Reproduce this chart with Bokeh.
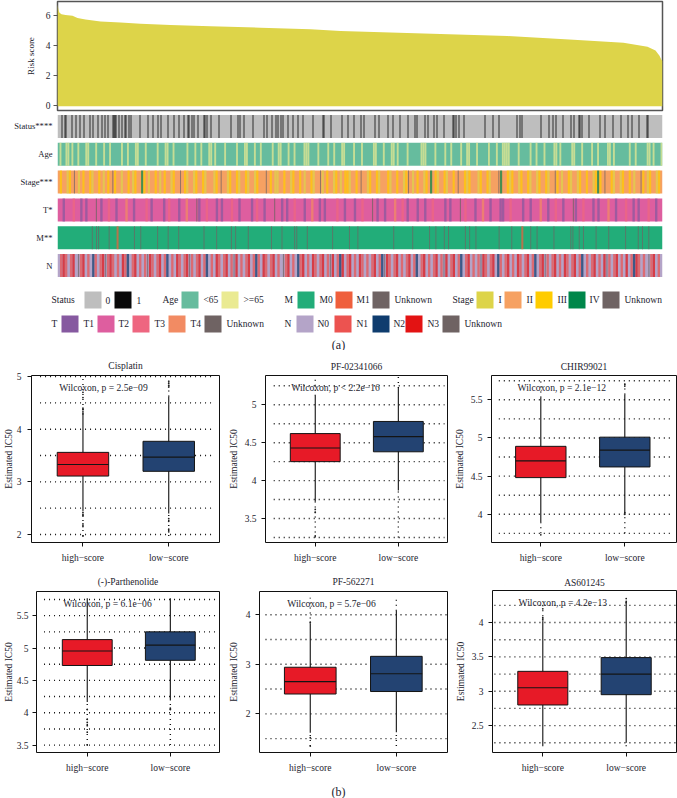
from bokeh.plotting import figure
from bokeh.layouts import column, row
from bokeh.models import FixedTicker, FactorRange, Range1d
from bokeh.core.properties import value
from bokeh.embed import file_html
from bokeh.resources import INLINE

# ------------------ DATA ------------------
risk_rank = [0, 1, 2, 4, 8, 15, 20, 28, 43, 63, 83, 113, 153, 203, 253, 283, 383, 450, 516, 566, 590, 598, 602, 604, 605]
risk_value = [6.75, 6.4, 6.2, 6.1, 6.05, 6.0, 5.85, 5.75, 5.62, 5.55, 5.46, 5.38, 5.3, 5.2, 5.1, 4.98, 4.78, 4.64, 4.4, 4.2, 3.93, 3.67, 3.33, 3.05, 3.0]

n_samples = 605
status_dead = [4, 7, 8, 14, 18, 22, 26, 32, 35, 40, 44, 47, 50, 55, 56, 57, 58, 61, 64, 67, 68, 71, 73,
               82, 90, 95, 100, 103, 110, 116, 121, 126, 130, 131, 134, 136, 140, 146, 147, 149, 153, 161, 173,
               180, 182, 186, 195, 206, 209, 214, 218, 220, 223, 225, 230, 235, 240, 245, 255, 265, 266, 273,
               284, 290, 296, 303, 306, 317, 321, 330, 335, 342, 350, 357, 359, 367, 370, 376, 379, 386, 395, 396, 398,
               401, 406, 427, 435, 441, 459, 462, 464, 483, 491, 495, 498, 505, 513, 516, 521, 522, 524, 531, 542,
               547, 555, 563, 570, 574, 581, 589, 590]
track_age = ("abaabbabaabaaabbaaabaaabaabaaaaabaabaaabbaaabaaaaabaaabbaabaaaaaabaaabaabaaabbabaaaabaaaaabaaabbaaabaabaaaaabaabb"
             "aaabaabaaaabbbaaaabaaaabaabaaabbaaaabaaabaaaaabbaaabaaabbabaaaabaaaaaabbbaaaabaaaabaabaaaabaabbaaabaaaaabaaabaab"
             "bbbaaaabaaaaabaabaaabaaaabbabaaaaabbaaabaaaabaabaaaabbabaaaaaaabaabaaaaabbabaaab")
track_stage = ("2322132u2123223122321232u32212232132243212232123221322u23122132231222132u2213223122312213222u2321122322132232"
               "1223122u12322132123312232u22132231222312232213u212322132423122312232u22313222132231222u4223132213223122132231"
               "22u321223122132232213432u223122132232122u321322132")
track_t = ("pp1ppp3pp1p1pppup1pp3pp1ppp4pp1pppp3p1pppp1p3ppp1pp4pppu1pp3ppp1p1ppp3pp1pppp1p3pp1pppupp1p1pp3ppp1pp4pp1p1pppp3"
           "pp1ppp1pp3pppup1pp1ppp4pp3p1ppp1pp1pp3pppp1p1pppup3ppp1pp4pp1ppp11pp3pppp1pp1ppp4pp1pp3pp1pppu1pp3ppp1p1ppp4pp1pp"
           "p3pp1p1ppp3pp1pp")
track_m = ("0000000000000000u0uu0000u00010000000u00u0000000u0000u0000u00000000000u00000u000000u0u00000u0000000000u0000u00"
           "000uu0000u00000000000u0000000u000u0000000000000000u00000000u0000000u00u000u0u0000000u0u00u0000000000u00000u0000"
           "1000u00u0000000u0000000uu00u0u00000u00000u0000000u00000u0u00u000000")
track_n = ("01310130u1301021013u1310103120130101u3101301201031013u10130120103101301u3010130121031013010u1301021301031013"
           "01u301230130103101013012u31013010130120130101301u30130120130101u3101302101301031013012013u1013010310130120101"
           "30103u1013010301231010u13010")

panel_names = ["Cisplatin", "PF-02341066", "CHIR99021", "(-)-Parthenolide", "PF-562271", "AS601245"]
panel_pvalues = ["Wilcoxon, p = 2.5e\u221209", "Wilcoxon, p < 2.2e\u221216", "Wilcoxon, p = 2.1e\u221212",
                 "Wilcoxon, p = 6.1e\u221206", "Wilcoxon, p = 5.7e\u221206", "Wilcoxon, p = 4.2e\u221213"]
group_labels = ["high\u2212score", "low\u2212score"]
y_top = [5.02, 5.386, 5.818, 5.873, 4.468, 4.467]
y_bottom = [1.848, 3.184, 3.63, 3.386, 1.22, 2.108]
y_ticks = [[2, 3, 4, 5], [3.5, 4.0, 4.5, 5.0], [4.0, 4.5, 5.0, 5.5], [3.5, 4.0, 4.5, 5.0, 5.5], [2, 3, 4], [2.5, 3.0, 3.5, 4.0]]
grid_levels = [[2, 2.5, 3, 3.5, 4, 4.5, 5], [3.25, 3.5, 3.75, 4, 4.25, 4.5, 4.75, 5, 5.25],
               [3.75, 4, 4.25, 4.5, 4.75, 5, 5.25, 5.5, 5.75], [3.5, 3.75, 4, 4.25, 4.5, 4.75, 5, 5.25, 5.5, 5.75],
               [1.5, 2, 2.5, 3, 3.5, 4], [2.25, 2.5, 2.75, 3, 3.25, 3.5, 3.75, 4, 4.25]]
high_q1 = [3.11, 4.25, 4.48, 4.73, 2.40, 2.80]
high_median = [3.33, 4.43, 4.70, 4.955, 2.65, 3.05]
high_q3 = [3.56, 4.62, 4.89, 5.13, 2.94, 3.29]
high_whisker_low = [2.45, 3.72, 3.90, 4.165, 1.62, 2.20]
high_whisker_high = [4.27, 5.12, 5.53, 5.77, 3.82, 4.02]
low_q1 = [3.20, 4.38, 4.62, 4.81, 2.45, 2.95]
low_median = [3.47, 4.58, 4.84, 5.045, 2.81, 3.25]
low_q3 = [3.77, 4.78, 5.01, 5.25, 3.16, 3.49]
low_whisker_low = [2.40, 3.87, 4.01, 4.19, 1.63, 2.25]
low_whisker_high = [4.62, 5.22, 5.57, 5.77, 4.08, 4.28]
high_outliers = [[4.3, 4.33, 4.37, 4.4, 4.6, 4.7, 2.42, 2.38, 2.35, 2.2, 2.15, 1.97],
                 [3.62, 3.58, 3.27], [3.73], [4.05, 3.9, 3.85, 3.8, 3.7, 3.5], [3.85, 1.52, 1.35], [4.07, 4.05, 4.2]]
low_outliers = [[4.8, 4.83, 4.87, 4.9, 2.3, 2.25, 2.1, 2.05], [], [5.70, 5.68, 4.02, 4.0], [4.07, 4.05], [], [4.35, 4.31, 4.29]]
vertical_low = [1.97, 3.25, 3.75, 3.5, 1.35, 2.2]
vertical_high = [5.0, 5.38, 5.75, 5.77, 4.34, 4.3]
grid_start = [0.5, 0.5, 0.5, 0.48, 0.48, 0.42]
grid_end = [2.5, 2.555, 2.57, 2.555, 2.6, 2.6]

# ------------------ STYLE / LAYOUT ------------------
SERIF = "Liberation Serif"
INK = "#23232e"
YELLOW = "#DDD449"
GRAY_UNK = "#6F6363"
age_colors = {"a": "#66BC9E", "b": "#EAEA92"}
stage_colors = {"1": YELLOW, "2": "#F6A162", "3": "#FFCC00", "4": "#00874A", "u": GRAY_UNK}
t_colors = {"1": "#8659A0", "p": "#DE5E9F", "3": "#EE6680", "4": "#F28B63", "u": GRAY_UNK}
m_colors = {"0": "#22AD79", "1": "#EF5F3C", "u": GRAY_UNK}
n_colors = {"0": "#B4A4C8", "1": "#EC5350", "2": "#0F3C6E", "3": "#E31313", "u": GRAY_UNK}

# (left, right, first box centre, second box centre) of each panel frame in page pixels
panel_frames = [(29, 219, 81, 167.7), (263, 447, 313.3, 397.3), (491, 676, 540.3, 624.3),
                (34, 219, 85.3, 169.3), (257, 447, 308.3, 395.3), (492, 676, 542.3, 625.7)]
panel_cells = [(0, 225), (225, 450), (450, 677), (0, 225), (225, 450), (450, 677)]
wilcoxon_x = [57, 289, 517, 61, 285, 518]
title_standoff = [9, 7, 7, 9, 9, 5]
tick_label_standoff = [6, 5, 5, 4, 5, 5]
axis_title_standoff = [0, 3, 3, 0, 4, 3]


def bare(fig):
    fig.grid.visible = False
    fig.background_fill_color = "white"
    fig.border_fill_color = "white"
    fig.frame_align = False
    return fig


# Risk score panel
risk = bare(figure(width=677, height=112, output_backend="svg", toolbar_location=None,
                   x_range=Range1d(0, n_samples), y_range=Range1d(-0.33, 6.95),
                   min_border_left=57, min_border_right=15, min_border_top=1, min_border_bottom=2))
risk.varea(x=risk_rank, y1=[-0.05] * len(risk_rank), y2=risk_value, fill_color=YELLOW)
risk.xaxis.visible = False
risk.yaxis.ticker = FixedTicker(ticks=[0, 2, 4, 6])
risk.yaxis.axis_label = "Risk score"
risk.yaxis.axis_label_text_font = SERIF
risk.yaxis.axis_label_text_font_size = "9px"
risk.yaxis.axis_label_text_font_style = "normal"
risk.yaxis.axis_label_text_color = INK
risk.yaxis.axis_label_standoff = 7
risk.yaxis.major_label_text_font = SERIF
risk.yaxis.major_label_text_font_size = "9.5px"
risk.yaxis.major_label_text_color = INK
risk.yaxis.major_label_standoff = 3
risk.yaxis.major_tick_out = 4
risk.yaxis.major_tick_in = 0
risk.yaxis.minor_tick_line_color = None
risk.yaxis.axis_line_color = None
risk.yaxis.major_tick_line_color = "#555555"
risk.outline_line_color = "#555555"
risk.outline_line_width = 1.5

# Annotation tracks
track_names = ["Status****", "Age", "Stage***", "T*", "M**", "N"]
heat = bare(figure(width=677, height=168, output_backend="svg", toolbar_location=None,
                   x_range=Range1d(0, n_samples), y_range=FactorRange(factors=track_names[::-1]),
                   min_border_left=57, min_border_right=15, min_border_top=0, min_border_bottom=1))
heat.xaxis.visible = False
heat.outline_line_color = None
heat.yaxis.axis_line_color = None
heat.yaxis.major_tick_line_color = None
heat.yaxis.major_tick_out = 0
heat.yaxis.major_tick_in = 0
heat.yaxis.major_label_text_font = SERIF
heat.yaxis.major_label_text_font_size = "8.6px"
heat.yaxis.major_label_text_color = INK
heat.yaxis.major_label_standoff = 5
BAND = 0.825


def draw_track(name, codes, colors, base):
    heat.rect(x=[n_samples / 2], y=[name], width=n_samples, height=BAND, fill_color=base, line_color=None)
    step = n_samples / len(codes)
    xs, cs, ws = [], [], []
    for i, c in enumerate(codes):
        if colors[c] != base:
            xs.append((i + 0.5) * step)
            cs.append(colors[c])
            ws.append(step * (0.45 if colors[c] == GRAY_UNK else 0.95))
    heat.rect(x=xs, y=[name] * len(xs), width=ws, height=BAND, fill_color=cs, fill_alpha=0.72, line_color=None)


heat.rect(x=[n_samples / 2], y=[track_names[0]], width=n_samples, height=BAND, fill_color="#BEBEBE", line_color=None)
heat.rect(x=[i + 0.5 for i in status_dead], y=[track_names[0]] * len(status_dead), width=1.1, height=BAND,
          fill_color="#0A0A0A", fill_alpha=0.72, line_color=None)
draw_track(track_names[1], track_age, age_colors, "#66BC9E")
draw_track(track_names[2], track_stage, stage_colors, "#F6A162")
draw_track(track_names[3], track_t, t_colors, "#DE5E9F")
draw_track(track_names[4], track_m, m_colors, "#22AD79")
draw_track(track_names[5], track_n, n_colors, "#B4A4C8")

# Legend strip (page pixel coordinates)
legend = bare(figure(width=677, height=70, output_backend="svg", toolbar_location=None,
                     x_range=Range1d(0, 677), y_range=Range1d(350, 280),
                     min_border_left=0, min_border_right=0, min_border_top=0, min_border_bottom=0))
legend.axis.visible = False
legend.outline_line_color = None
row1_text = [("Status", 51), ("0", 105), ("1", 136), ("Age", 162), ("<65", 203), (">=65", 243), ("M", 284), ("M0", 319),
             ("M1", 356), ("Unknown", 394), ("Stage", 452), ("I", 498), ("II", 526), ("III", 557), ("IV", 589), ("Unknown", 624)]
row1_swatches = [(84, "#BEBEBE"), (114, "#0A0A0A"), (181, "#66BC9E"), (221, "#EAEA92"), (297, "#22AD79"), (335, "#EF5F3C"),
                 (372, GRAY_UNK), (476, YELLOW), (504, "#F6A162"), (535, "#FFCC00"), (568, "#00874A"), (602, GRAY_UNK)]
row2_text = [("T", 51), ("T1", 83), ("T2", 118), ("T3", 154), ("T4", 190), ("Unknown", 226), ("N", 284), ("N0", 317),
             ("N1", 356), ("N2", 393), ("N3", 427), ("Unknown", 464)]
row2_swatches = [(61, "#8659A0"), (97, "#DE5E9F"), (132, "#EE6680"), (168, "#F28B63"), (204, GRAY_UNK), (296, "#B4A4C8"),
                 (334, "#EC5350"), (372, "#0F3C6E"), (405, "#E31313"), (442, GRAY_UNK)]
for entries, swatches, top, mid in [(row1_text, row1_swatches, 291, 299.5), (row2_text, row2_swatches, 315, 323)]:
    legend.quad(left=[s[0] for s in swatches], right=[s[0] + 17 for s in swatches], top=[top] * len(swatches),
                bottom=[top + 17] * len(swatches), fill_color=[s[1] for s in swatches], line_color=None)
    legend.text(x=[e[1] for e in entries], y=[mid] * len(entries), text=[e[0] for e in entries],
                text_font=value(SERIF), text_font_size="9.5px", text_color=INK, text_baseline="middle", text_align="left")
legend.text(x=[338], y=[344], text=["(a)"], text_font=value(SERIF), text_font_size="12px", text_color=INK,
            text_baseline="middle", text_align="center")


def box_panel(i, fig_top, fig_height, frame_top, frame_bottom):
    left, right, c1, c2 = panel_frames[i]
    cell_l, cell_r = panel_cells[i]
    spacing = c2 - c1
    x_lo = 1 - (c1 - left) / spacing
    x_hi = 2 + (right - c2) / spacing
    p = bare(figure(width=cell_r - cell_l, height=fig_height, output_backend="svg", toolbar_location=None,
                    x_range=Range1d(x_lo, x_hi), y_range=Range1d(y_bottom[i], y_top[i]),
                    min_border_left=left - cell_l, min_border_right=cell_r - right,
                    min_border_top=frame_top - fig_top, min_border_bottom=fig_top + fig_height - frame_bottom))
    levels = grid_levels[i]
    p.segment(x0=[grid_start[i]] * len(levels), x1=[grid_end[i]] * len(levels), y0=levels, y1=levels,
              line_color="#111111", line_width=1.4, line_dash="1 4")
    # dotted continuation of each whisker beyond its solid part
    p.segment(x0=[1, 2, 1, 2], x1=[1, 2, 1, 2],
              y0=[vertical_low[i], vertical_low[i], high_whisker_high[i], low_whisker_high[i]],
              y1=[high_whisker_low[i], low_whisker_low[i], vertical_high[i], vertical_high[i]],
              line_color="#111111", line_width=1.4, line_dash="1 4")
    p.segment(x0=[1, 2], x1=[1, 2], y0=[high_whisker_low[i], low_whisker_low[i]],
              y1=[high_whisker_high[i], low_whisker_high[i]], line_color="#111111", line_width=1.1)
    p.vbar(x=[1, 2], width=0.6, bottom=[high_q1[i], low_q1[i]], top=[high_q3[i], low_q3[i]],
           fill_color=["#E71A27", "#234372"], line_color="#141414", line_width=1)
    p.segment(x0=[0.7, 1.7], x1=[1.3, 2.3], y0=[high_median[i], low_median[i]], y1=[high_median[i], low_median[i]],
              line_color="#141414", line_width=1.1)
    ox = [1] * len(high_outliers[i]) + [2] * len(low_outliers[i])
    oy = high_outliers[i] + low_outliers[i]
    p.scatter(x=ox, y=oy, size=1.8, marker="circle", fill_color="#222222", line_color=None)
    text_page_y = frame_top + 12
    ty = y_top[i] - (text_page_y - frame_top) * (y_top[i] - y_bottom[i]) / (frame_bottom - frame_top)
    tx = x_lo + (wilcoxon_x[i] - left) / spacing
    p.text(x=[tx], y=[ty], text=[panel_pvalues[i]], text_font=value(SERIF), text_font_size="9.6px",
           text_color=INK, text_baseline="middle", text_align="left")
    p.title.text = panel_names[i]
    p.title.align = "center"
    p.title.text_font = SERIF
    p.title.text_font_size = "9.5px"
    p.title.text_font_style = "normal"
    p.title.text_color = INK
    p.title.standoff = title_standoff[i]
    p.xaxis.ticker = FixedTicker(ticks=[1, 2])
    p.xaxis.major_label_overrides = {1: group_labels[0], 2: group_labels[1]}
    p.yaxis.ticker = FixedTicker(ticks=y_ticks[i])
    for ax in (p.xaxis, p.yaxis):
        ax.major_label_text_font = SERIF
        ax.major_label_text_font_size = "9.5px"
        ax.major_label_text_color = INK
        ax.major_tick_out = 4
        ax.major_tick_in = 0
        ax.major_tick_line_color = "#111111"
        ax.minor_tick_line_color = None
        ax.axis_line_color = None
    p.xaxis.major_label_standoff = 6
    p.yaxis.major_label_standoff = tick_label_standoff[i]
    p.yaxis.axis_label = "Estimated IC50"
    p.yaxis.axis_label_text_font = SERIF
    p.yaxis.axis_label_text_font_size = "9.5px"
    p.yaxis.axis_label_text_font_style = "normal"
    p.yaxis.axis_label_text_color = INK
    p.yaxis.axis_label_standoff = axis_title_standoff[i]
    p.outline_line_color = "#111111"
    p.outline_line_width = 1
    return p


row_a = row([box_panel(i, 350, 220, 375, 542) for i in range(3)], spacing=0)
row_b = row([box_panel(i, 570, 205, 590, 757) for i in range(3, 6)], spacing=0)

caption = bare(figure(width=677, height=23, output_backend="svg", toolbar_location=None,
                      x_range=Range1d(0, 677), y_range=Range1d(798, 775),
                      min_border_left=0, min_border_right=0, min_border_top=0, min_border_bottom=0))
caption.axis.visible = False
caption.outline_line_color = None
caption.text(x=[338], y=[791], text=["(b)"], text_font=value(SERIF), text_font_size="12px", text_color=INK,
             text_baseline="middle", text_align="center")

page = column([risk, heat, legend, row_a, row_b, caption], spacing=0)
open("out.html", "w").write(file_html(page, INLINE))
